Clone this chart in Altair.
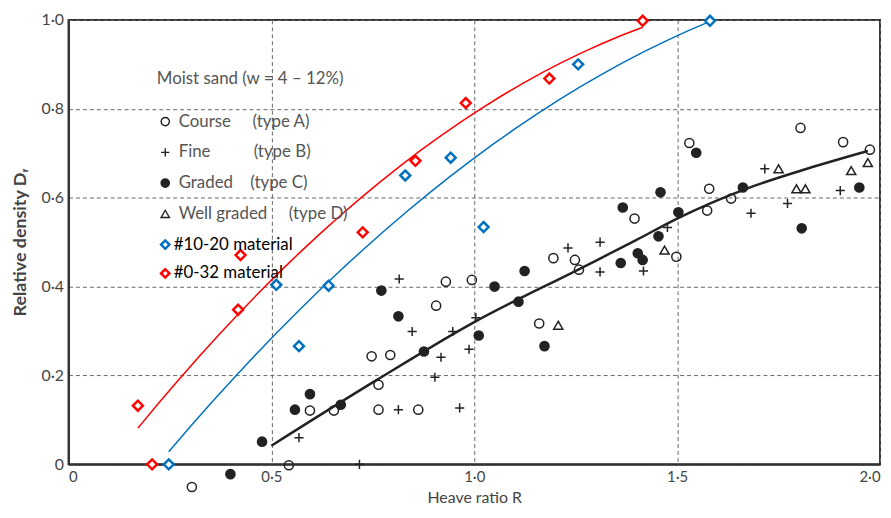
import altair as alt
import pandas as pd

# ---- data ----
coarse_R = [0.304, 0.543, 0.595, 0.654, 0.747, 0.764, 0.764, 0.793, 0.862, 0.906, 0.930, 0.994, 1.160, 1.195, 1.248, 1.258, 1.395, 1.498, 1.530, 1.574, 1.579, 1.633, 1.804, 1.909, 1.975]
coarse_D = [-0.051, -0.002, 0.121, 0.121, 0.243, 0.123, 0.179, 0.246, 0.123, 0.357, 0.411, 0.415, 0.317, 0.464, 0.460, 0.438, 0.553, 0.467, 0.723, 0.571, 0.620, 0.598, 0.757, 0.725, 0.708]

fine_R = [0.568, 0.717, 0.813, 0.815, 0.847, 0.903, 0.918, 0.947, 0.964, 0.987, 1.004, 1.231, 1.310, 1.310, 1.417, 1.476, 1.682, 1.716, 1.772, 1.902]
fine_D = [0.060, 0.000, 0.123, 0.417, 0.299, 0.196, 0.241, 0.299, 0.127, 0.259, 0.330, 0.487, 0.500, 0.433, 0.435, 0.533, 0.565, 0.665, 0.587, 0.616]

graded_R = [0.399, 0.477, 0.558, 0.595, 0.671, 0.771, 0.813, 0.876, 1.011, 1.050, 1.109, 1.124, 1.173, 1.361, 1.366, 1.403, 1.415, 1.454, 1.459, 1.503, 1.547, 1.662, 1.807, 1.949]
graded_D = [-0.022, 0.051, 0.123, 0.158, 0.134, 0.391, 0.333, 0.254, 0.290, 0.400, 0.366, 0.435, 0.266, 0.453, 0.578, 0.475, 0.460, 0.513, 0.612, 0.567, 0.701, 0.623, 0.531, 0.623]

well_R = [1.207, 1.469, 1.750, 1.794, 1.816, 1.929, 1.970]
well_D = [0.313, 0.482, 0.665, 0.620, 0.620, 0.661, 0.679]

trend_R = [0.50, 0.76, 1.00, 1.26, 1.40, 1.50, 1.67, 1.82, 1.97]
trend_D = [0.042, 0.19, 0.32, 0.44, 0.505, 0.553, 0.62, 0.665, 0.705]

m1020_R = [0.247, 0.512, 0.568, 0.641, 0.830, 0.942, 1.023, 1.256, 1.581]
m1020_D = [0.000, 0.404, 0.266, 0.402, 0.650, 0.690, 0.534, 0.900, 0.998]

m032_R = [0.171, 0.206, 0.418, 0.424, 0.725, 0.855, 0.979, 1.185, 1.415]
m032_D = [0.132, 0.000, 0.348, 0.471, 0.522, 0.683, 0.813, 0.868, 0.998]

NB = "\u00a0"
type_names = [
    "Course" + NB * 5 + "(type A)",
    "Fine" + NB * 10 + "(type B)",
    "Graded" + NB * 4 + "(type C)",
    "Well graded" + NB * 5 + "(type D)",
]
material_names = ["#10-20 material", "#0-32 material"]

# ---- tables ----
rows = []
for name, R, D in zip(type_names, [coarse_R, fine_R, graded_R, well_R], [coarse_D, fine_D, graded_D, well_D]):
    rows += [{"R": r, "D": d, "type": name} for r, d in zip(R, D)]
black = pd.DataFrame(rows)
trend = pd.DataFrame({"R": trend_R, "D": trend_D})
mrows = []
for name, R, D in zip(material_names, [m1020_R, m032_R], [m1020_D, m032_D]):
    mrows += [{"R": r, "D": d, "material": name} for r, d in zip(R, D)]
mats = pd.DataFrame(mrows)

label_expr = "datum.value == 0 ? '0' : replace(format(datum.value, '.1f'), '.', '\u00b7')"

x_enc = alt.X("R:Q", scale=alt.Scale(domain=[0, 2], nice=False, zero=False),
              axis=alt.Axis(values=[0, 0.5, 1, 1.5, 2], labelExpr=label_expr,
                            labelFontSize=15, labelPadding=5,
                            title="Heave ratio R", titlePadding=5, titleFontSize=16))
y_enc = alt.Y("D:Q", scale=alt.Scale(domain=[0, 1], nice=False, zero=False),
              axis=alt.Axis(values=[0, 0.2, 0.4, 0.6, 0.8, 1.0], labelExpr=label_expr,
                            labelFontSize=16, labelPadding=5,
                            title="Relative density D\u1d63", titlePadding=12,
                            titleFontSize=18, titleFontWeight="bold"))

leg1 = alt.Legend(
    orient="none", legendX=89, legendY=52, title="Moist sand (w = 4 \u2013 12%)",
    titleFont="Lato", titleFontSize=17, titleFontWeight="normal", titleColor="#555",
    titleLimit=400,
    labelFont="Lato", labelFontSize=17, labelColor="#555", symbolSize=70,
    symbolStrokeWidth=1.4, rowPadding=13, titlePadding=25, labelOffset=5, padding=0,
    labelLimit=400,
)
shape_range = ["circle", "M-1,0L1,0M0,-1L0,1", "circle", "triangle-up"]
fill_range = ["transparent", "transparent", "#222", "transparent"]
stroke_range = ["#222", "#222", "#222", "#222"]

points = alt.Chart(black).mark_point(size=85, strokeWidth=1.5, opacity=1).encode(
    x=x_enc, y=y_enc,
    shape=alt.Shape("type:N", scale=alt.Scale(domain=type_names, range=shape_range), legend=leg1),
    fill=alt.Fill("type:N", scale=alt.Scale(domain=type_names, range=fill_range), legend=leg1),
    stroke=alt.Stroke("type:N", scale=alt.Scale(domain=type_names, range=stroke_range), legend=leg1),
)

trend_line = alt.Chart(trend).mark_line(color="#222", strokeWidth=2.5, interpolate="monotone").encode(
    x="R:Q", y="D:Q")

color_scale = alt.Scale(domain=material_names, range=["#0070C0", "#FF0000"])

leg2 = alt.Legend(
    orient="none", legendX=89, legendY=218, title=None, symbolType="diamond",
    symbolFillColor="white", symbolStrokeWidth=2.5, symbolSize=70,
    labelFont="Lato", labelFontSize=17, labelColor="#000", rowPadding=10,
    labelOffset=0, padding=0, labelLimit=400,
)

diamonds = alt.Chart(mats).mark_point(shape="diamond", size=100, strokeWidth=2.5,
                                      fill="white", fillOpacity=1, opacity=1).encode(
    x="R:Q", y="D:Q", color=alt.Color("material:N", scale=color_scale, legend=leg2))

fits = alt.Chart(mats).transform_regression(
    "R", "D", groupby=["material"], method="poly", order=2
).mark_line(strokeWidth=1.5).encode(
    x="R:Q", y="D:Q", color=alt.Color("material:N", scale=color_scale, legend=leg2))

chart = alt.layer(points, trend_line, fits, diamonds).properties(
    width=818, height=448,
    autosize=alt.AutoSizeParams(type="none"),
    padding={"left": 61, "top": 10, "right": 3, "bottom": 44},
).configure_view(stroke="#333", strokeWidth=2).configure_axis(
    grid=True, gridDash=[4, 3], gridColor="#666", gridWidth=1,
    domainColor="#333", domainWidth=2, ticks=False,
    labelFont="Lato", labelColor="#444",
    titleFont="Lato", titleColor="#444", titleFontWeight="normal",
)

chart.save("out.html", embed_options={"renderer": "svg", "actions": False})
